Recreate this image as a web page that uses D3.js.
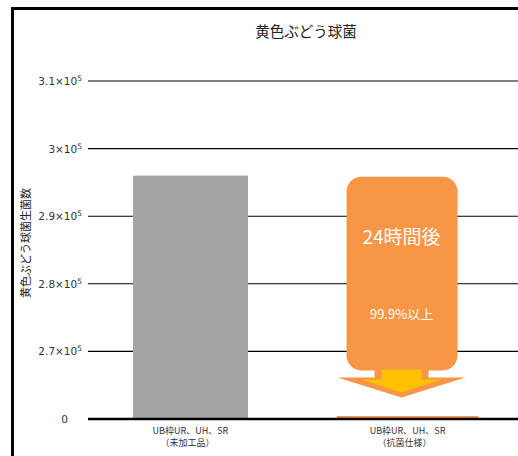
<!DOCTYPE html>
<html>
<head>
<meta charset="utf-8">
<script src="https://cdn.jsdelivr.net/npm/d3@7"></script>
<style>
  body { margin: 0; background: #fff; }
  text { font-family: "Noto Sans CJK JP", "DejaVu Sans", sans-serif; }
  text.tick { font-family: "DejaVu Sans", sans-serif; }
</style>
</head>
<body>
<div id="chart"></div>
<script>
// data
var categoriesLine1 = ["UB枠UR、UH、SR", "UB枠UR、UH、SR"];
var categoriesLine2 = ["（未加工品）", "（抗菌仕様）"];
var values = [296000, 300];
var barColors = ["#a5a5a5", "#f79646"];
var tickValues = [0, 270000, 280000, 290000, 300000, 310000];
var tickMantissa = ["0", "2.7", "2.8", "2.9", "3", "3.1"];
var chartTitle = "黄色ぶどう球菌";
var yTitle = "黄色ぶどう球菌生菌数";
var calloutTitle = "24時間後";
var calloutText = "99.9%以上";

var W = 518, H = 456;
var margin = {top: 81, right: 0, bottom: 37, left: 88};
var width = W - margin.left - margin.right,
    height = H - margin.top - margin.bottom;

var svgRoot = d3.select("#chart").append("svg")
  .attr("width", W).attr("height", H);

// frame
svgRoot.append("rect")
  .attr("x", 12.5).attr("y", 8.5)
  .attr("width", W + 20).attr("height", H + 20)
  .attr("fill", "none").attr("stroke", "#000").attr("stroke-width", 3);

svgRoot.append("text")
  .attr("x", 306).attr("y", 37)
  .attr("text-anchor", "middle")
  .attr("font-size", 14.5).attr("fill", "#222")
  .text(chartTitle);

var svg = svgRoot.append("g")
  .attr("transform", "translate(" + margin.left + "," + margin.top + ")");

// broken axis: 0 sits one step below 2.7×10^5
var step = height / 5;
var y = d3.scaleLinear()
  .domain([0, 270000, 310000])
  .range([height, height - step, 0]);

var x = d3.scaleBand()
  .domain(d3.range(values.length))
  .range([0, 422])
  .paddingInner(0.47)
  .paddingOuter(0.207);

// gridlines
svg.selectAll(".grid").data(tickValues.slice(1)).enter().append("line")
  .attr("x1", 0).attr("x2", width)
  .attr("y1", d => y(d)).attr("y2", d => y(d))
  .attr("stroke", "#000").attr("stroke-width", 1.1);

// tick labels
var tl = svg.selectAll(".tick").data(tickValues).enter().append("text")
  .attr("class", "tick")
  .attr("x", d => d === 0 ? -20 : -6).attr("y", d => y(d) + 4)
  .attr("text-anchor", "end")
  .attr("font-size", 10.5).attr("fill", "#333");
tl.each(function (d, i) {
  var t = d3.select(this);
  if (d === 0) { t.text(tickMantissa[i]); return; }
  t.append("tspan").text(tickMantissa[i] + "×10");
  t.append("tspan").attr("dy", -4).attr("font-size", 7.5).text("5");
});

// y title
svgRoot.append("text")
  .attr("transform", "translate(30,243) rotate(-90)")
  .attr("text-anchor", "middle")
  .attr("font-size", 11).attr("fill", "#222")
  .text(yTitle);

// bars
var barW = [x.bandwidth(), x.bandwidth() * 1.23];
svg.selectAll(".bar").data(values).enter().append("rect")
  .attr("x", (d, i) => x(i) + x.bandwidth() / 2 - barW[i] / 2)
  .attr("width", (d, i) => barW[i])
  .attr("y", d => Math.min(y(d), height - 3))
  .attr("height", d => Math.max(height - y(d), 3))
  .attr("fill", (d, i) => barColors[i]);

// baseline
svg.append("line")
  .attr("x1", 0).attr("x2", width)
  .attr("y1", height).attr("y2", height)
  .attr("stroke", "#000").attr("stroke-width", 2.5);

// category labels
svg.selectAll(".cat1").data(categoriesLine1).enter().append("text")
  .attr("x", (d, i) => x(i) + x.bandwidth() / 2)
  .attr("y", height + 15)
  .attr("text-anchor", "middle").attr("font-size", 9).attr("fill", "#333")
  .text(d => d);
svg.selectAll(".cat2").data(categoriesLine2).enter().append("text")
  .attr("x", (d, i) => x(i) + x.bandwidth() / 2 - 3)
  .attr("y", height + 27)
  .attr("text-anchor", "middle").attr("font-size", 9).attr("fill", "#333")
  .text(d => d);

// callout over second bar
var cx = x(1) + x.bandwidth() / 2 - 6;
var boxTop = y(values[0]) + 1, boxBottom = y(270000) + 19;
var call = svg.append("g");
call.append("rect")
  .attr("x", cx - 55).attr("y", boxTop)
  .attr("width", 111).attr("height", boxBottom - boxTop)
  .attr("rx", 15).attr("fill", "#f79646");
call.append("text")
  .attr("x", cx).attr("y", boxTop + 67)
  .attr("text-anchor", "middle").attr("font-size", 19).attr("fill", "#fff")
  .text(calloutTitle);
call.append("text")
  .attr("x", cx).attr("y", boxTop + 142)
  .attr("text-anchor", "middle").attr("font-size", 13).attr("fill", "#fff")
  .text(calloutText);

// down arrow
var aTop = boxBottom - 3;
call.append("path")
  .attr("d", "M" + (cx - 27) + "," + aTop + " L" + (cx + 27) + "," + aTop +
    " L" + (cx + 27) + "," + (aTop + 10) + " L" + (cx + 64) + "," + (aTop + 10) +
    " L" + cx + "," + (aTop + 30) + " L" + (cx - 64) + "," + (aTop + 10) +
    " L" + (cx - 27) + "," + (aTop + 10) + "Z")
  .attr("fill", "#f79646");
call.append("path")
  .attr("d", "M" + (cx - 20) + "," + (aTop + 2) + " L" + (cx + 20) + "," + (aTop + 2) +
    " L" + (cx + 20) + "," + (aTop + 12) + " L" + (cx + 40) + "," + (aTop + 12) +
    " L" + cx + "," + (aTop + 25) + " L" + (cx - 40) + "," + (aTop + 12) +
    " L" + (cx - 20) + "," + (aTop + 12) + "Z")
  .attr("fill", "#ffc000");
</script>
</body>
</html>
